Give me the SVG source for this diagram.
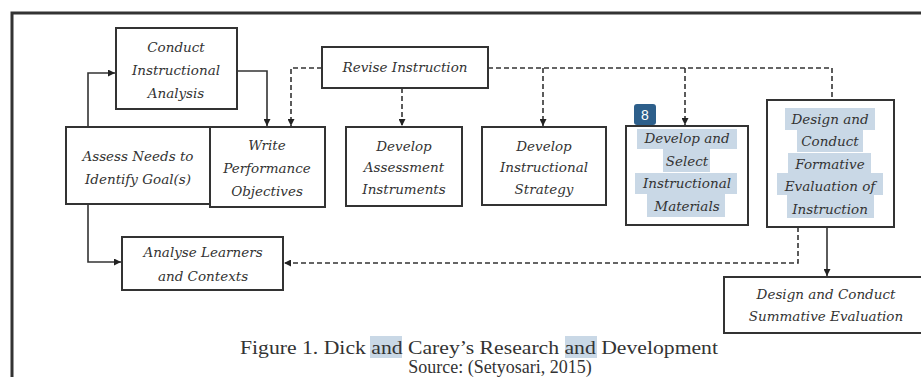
<svg xmlns="http://www.w3.org/2000/svg" width="921" height="377" viewBox="0 0 921 377">
<style>
.box{fill:#fff;stroke:#333;stroke-width:2}
.t{font-family:"DejaVu Serif","Liberation Serif",serif;font-style:italic;font-size:13.5px;fill:#333;text-anchor:middle}
.cap{font-family:"Liberation Serif",serif;font-size:18px;fill:#333;text-anchor:middle}
.ln{fill:none;stroke:#333;stroke-width:1.6}
.ds{fill:none;stroke:#333;stroke-width:1.6;stroke-dasharray:5 3}
.hl{fill:#c9d8e6}
</style>
<defs>
<marker id="ah" viewBox="0 0 10 10" refX="10" refY="5" markerWidth="7" markerHeight="7" orient="auto" markerUnits="userSpaceOnUse">
<path d="M0,0 L10,5 L0,10 Z" fill="#222"/>
</marker>
</defs>
<rect width="921" height="377" fill="#fff"/>
<path d="M12,377 V13 H921" fill="none" stroke="#333" stroke-width="3"/>

<g id="connectors">
<path class="ln" d="M88,127 V73 H115" marker-end="url(#ah)"/>
<path class="ln" d="M237,71 H267 V126" marker-end="url(#ah)"/>
<path class="ds" d="M322,68 H291 V126" marker-end="url(#ah)"/>
<path class="ds" d="M402,88 V126" marker-end="url(#ah)"/>
<path class="ds" d="M488,68 H832 V100"/>
<path class="ds" d="M543,68 V126" marker-end="url(#ah)"/>
<path class="ds" d="M685,68 V125" marker-end="url(#ah)"/>
<path class="ds" d="M798,227 V263 H284" marker-end="url(#ah)"/>
<path class="ln" d="M88,204 V262 H121" marker-end="url(#ah)"/>
<path class="ln" d="M827,227 V276" marker-end="url(#ah)"/>
</g>

<g id="n-conduct">
<rect class="box" x="116" y="28" width="121" height="81"/>
<text class="t" x="176" y="52">Conduct</text>
<text class="t" x="176" y="75">Instructional</text>
<text class="t" x="176" y="98">Analysis</text>
</g>
<g id="n-assess">
<rect class="box" x="66" y="127" width="144" height="77"/>
<text class="t" x="138" y="161">Assess Needs to</text>
<text class="t" x="138" y="184">Identify Goal(s)</text>
</g>
<g id="n-write">
<rect class="box" x="210" y="127" width="115" height="80"/>
<text class="t" x="267" y="150">Write</text>
<text class="t" x="267" y="173">Performance</text>
<text class="t" x="267" y="196">Objectives</text>
</g>
<g id="n-revise">
<rect class="box" x="322" y="47" width="166" height="41"/>
<text class="t" x="405" y="72">Revise Instruction</text>
</g>
<g id="n-assessment">
<rect class="box" x="346" y="127" width="116" height="79"/>
<text class="t" x="404" y="151">Develop</text>
<text class="t" x="404" y="172">Assessment</text>
<text class="t" x="404" y="194">Instruments</text>
</g>
<g id="n-strategy">
<rect class="box" x="482" y="127" width="124" height="78"/>
<text class="t" x="544" y="151">Develop</text>
<text class="t" x="544" y="172">Instructional</text>
<text class="t" x="544" y="194">Strategy</text>
</g>
<g id="n-materials">
<rect class="box" x="626" y="126" width="122" height="99"/>
<rect class="hl" x="637" y="129" width="100" height="20"/>
<rect class="hl" x="663" y="149" width="47" height="23"/>
<rect class="hl" x="635" y="173" width="102" height="21"/>
<rect class="hl" x="647" y="194" width="78" height="23"/>
<text class="t" x="687" y="143">Develop and</text>
<text class="t" x="687" y="166">Select</text>
<text class="t" x="687" y="188">Instructional</text>
<text class="t" x="687" y="211">Materials</text>
<rect x="634" y="104" width="22" height="21" rx="3" fill="#2d5f8b"/>
<text x="645" y="120" font-family="'Liberation Sans',sans-serif" font-size="14" fill="#fff" text-anchor="middle">8</text>
</g>
<g id="n-formative">
<rect class="box" x="767" y="100" width="127" height="127"/>
<rect class="hl" x="785" y="108" width="90" height="22"/>
<rect class="hl" x="797" y="130" width="66" height="22"/>
<rect class="hl" x="788" y="153" width="83" height="20"/>
<rect class="hl" x="777" y="173" width="106" height="22"/>
<rect class="hl" x="787" y="195" width="87" height="23"/>
<text class="t" x="830" y="124">Design and</text>
<text class="t" x="830" y="146">Conduct</text>
<text class="t" x="830" y="169">Formative</text>
<text class="t" x="830" y="191">Evaluation of</text>
<text class="t" x="830" y="214">Instruction</text>
</g>
<g id="n-analyse">
<rect class="box" x="122" y="237" width="161" height="53"/>
<text class="t" x="203" y="257">Analyse Learners</text>
<text class="t" x="203" y="281">and Contexts</text>
</g>
<g id="n-summative">
<rect class="box" x="724" y="277" width="200" height="56"/>
<text class="t" x="826" y="299">Design and Conduct</text>
<text class="t" x="826" y="321">Summative Evaluation</text>
</g>

<g id="caption">
<rect class="hl" x="370" y="336" width="32" height="22"/>
<rect class="hl" x="565" y="336" width="32" height="22"/>
<text class="cap" x="479" y="354" textLength="478" lengthAdjust="spacingAndGlyphs">Figure 1. Dick and Carey’s Research and Development</text>
<text class="cap" x="500" y="373" font-size="16">Source: (Setyosari, 2015)</text>
</g>
</svg>
